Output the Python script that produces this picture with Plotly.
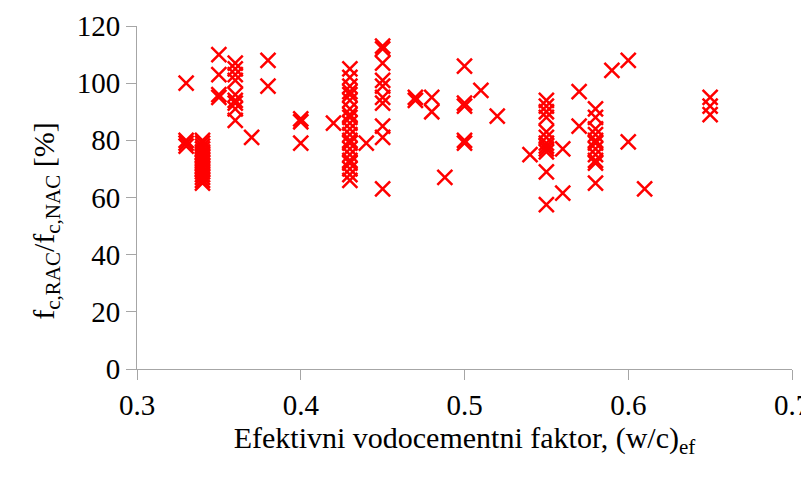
import plotly.graph_objects as go

# Effective water/cement ratio groups and compressive strength ratios
wc_033 = [100, 80, 79, 78]
wc_034 = [80, 79, 78, 77, 76, 75, 74, 73, 72, 71, 70, 69, 68, 67, 66, 65]
wc_035 = [110, 103, 96, 95]
wc_036 = [107, 105, 103, 101, 96, 94, 93, 91, 87]
wc_037 = [81]
wc_038 = [108, 99]
wc_040 = [87.5, 86.5, 79]
wc_042 = [86]
wc_043 = [105, 102, 99, 97, 96, 94, 91, 89, 88, 86, 84, 82, 80, 79, 77, 75, 73, 72, 70, 68, 66]
wc_044 = [79]
wc_045 = [113, 112, 107, 101, 99, 95, 93, 85, 81, 63]
wc_047 = [95, 94]
wc_048 = [95, 90]
wc_0488 = [67]
wc_050 = [106, 93, 92, 80, 79]
wc_051 = [97.5]
wc_052 = [88.5]
wc_054 = [75]
wc_055 = [94, 92, 90, 88, 83, 81, 79, 78, 77, 76, 69, 57.5]
wc_056 = [77, 61.5]
wc_057 = [97, 85]
wc_058 = [91, 88, 84, 82, 80, 79, 77, 75, 73, 72, 65]
wc_059 = [104.5]
wc_060 = [108, 79.5]
wc_061 = [63]
wc_065 = [95, 92, 89]

groups = [
    (0.33, wc_033), (0.34, wc_034), (0.35, wc_035), (0.36, wc_036),
    (0.37, wc_037), (0.38, wc_038), (0.40, wc_040), (0.42, wc_042),
    (0.43, wc_043), (0.44, wc_044), (0.45, wc_045), (0.47, wc_047),
    (0.48, wc_048), (0.488, wc_0488), (0.50, wc_050), (0.51, wc_051),
    (0.52, wc_052), (0.54, wc_054), (0.55, wc_055), (0.56, wc_056),
    (0.57, wc_057), (0.58, wc_058), (0.59, wc_059), (0.60, wc_060),
    (0.61, wc_061), (0.65, wc_065),
]

xs, ys = [], []
for wc, vals in groups:
    for v in vals:
        xs.append(wc)
        ys.append(v)

fig = go.Figure()
fig.add_trace(go.Scatter(
    x=xs, y=ys, mode="markers",
    marker=dict(symbol="x-thin-open", size=15, color="#ff0000",
                line=dict(color="#ff0000", width=2.5)),
    showlegend=False,
))

family = "Times New Roman, Liberation Serif, DejaVu Serif, serif"
font = dict(family=family, size=29, color="black")
title_font = dict(family=family, size=30, color="black")

fig.update_layout(
    width=801, height=474,
    margin=dict(l=129, r=17, t=18, b=113),
    paper_bgcolor="white", plot_bgcolor="white",
    font=font,
)
fig.update_xaxes(
    range=[0.3, 0.7], tickvals=[0.3, 0.4, 0.5, 0.6, 0.7],
    ticktext=["0.3", "0.4", "0.5", "0.6", "0.7"],
    automargin=False, tickfont=font, ticklabeloverflow="allow",
    showgrid=False, zeroline=False, showline=True, linecolor="#a6a6a6", linewidth=1,
    ticks="outside", ticklen=10, tickcolor="#a6a6a6",
    title=dict(text="Efektivni vodocementni faktor, (w/c)<sub>ef</sub>", font=title_font, standoff=2),
)
fig.update_yaxes(
    range=[0, 120], tickvals=[0, 20, 40, 60, 80, 100, 120],
    automargin=False, tickfont=font,
    showgrid=False, zeroline=False, showline=True, linecolor="#a6a6a6", linewidth=1,
    ticks="outside", ticklen=10, tickcolor="#a6a6a6",
)
fig.add_annotation(
    text="f<sub>c,RAC</sub>/f<sub>c,NAC</sub> [%]",
    xref="paper", yref="paper", x=-0.14, y=0.43,
    xanchor="center", yanchor="middle", textangle=-90,
    showarrow=False, font=title_font,
)

fig.write_html("out.html")
